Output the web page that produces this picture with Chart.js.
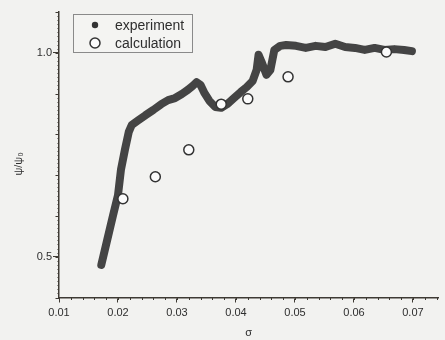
<!DOCTYPE html>
<html>
<head>
<meta charset="utf-8">
<script src="https://cdn.jsdelivr.net/npm/chart.js@4.4.1/dist/chart.umd.min.js"></script>
<style>
  html, body { margin: 0; padding: 0; background: #f2f2f0; }
  #wrap { width: 445px; height: 340px; }
  canvas { display: block; }
</style>
</head>
<body>
<div id="wrap"><canvas id="c" width="445" height="340"></canvas></div>
<script>
// ---------- data ----------
const expSigma = [0.01717, 0.01817, 0.01917, 0.02000, 0.02050, 0.02117, 0.02183, 0.02233,
  0.02350, 0.02467, 0.02600, 0.02733, 0.02850, 0.02967, 0.03083, 0.03183, 0.03267, 0.03333,
  0.03400, 0.03467, 0.03550, 0.03650, 0.03750, 0.03850, 0.03967, 0.04083, 0.04183, 0.04283,
  0.04350, 0.04383, 0.04433, 0.04517, 0.04583, 0.04650, 0.04750, 0.04850, 0.05017, 0.05183,
  0.05350, 0.05517, 0.05683, 0.05850, 0.06017, 0.06183, 0.06350, 0.06517, 0.06683, 0.06850,
  0.06983];
const expPsi = [0.480, 0.541, 0.602, 0.651, 0.713, 0.762, 0.806, 0.823,
  0.835, 0.847, 0.860, 0.874, 0.884, 0.889, 0.899, 0.909, 0.919, 0.928,
  0.921, 0.901, 0.882, 0.867, 0.865, 0.874, 0.889, 0.904, 0.916, 0.931,
  0.958, 0.995, 0.978, 0.946, 0.958, 1.007, 1.017, 1.019, 1.017, 1.012,
  1.017, 1.014, 1.022, 1.014, 1.012, 1.007, 1.012, 1.007, 1.009, 1.007,
  1.004];
const calcSigma = [0.02083, 0.02633, 0.03200, 0.03750, 0.04200, 0.04883, 0.06550];
const calcPsi   = [0.642, 0.696, 0.762, 0.874, 0.887, 0.941, 1.002];

const seriesNames = ['experiment', 'calculation'];
const xTickValues = [0.01, 0.02, 0.03, 0.04, 0.05, 0.06, 0.07];
const xTickLabels = ['0.01', '0.02', '0.03', '0.04', '0.05', '0.06', '0.07'];
const yTickValues = [0.5, 1.0];
const yTickLabels = ['0.5', '1.0'];
const xTitle = 'σ';
const yTitle = 'ψ/ψ₀';

// ---------- style ----------
const AXIS = '#3e3a34';
const TEXT = '#2e2e2e';
const CURVE = '#444444';
const FONT = "'Liberation Sans', Arial, sans-serif";

const minorTicks = {
  id: 'minorTicks',
  afterDraw(chart) {
    const { ctx, chartArea, scales: { x, y } } = chart;
    ctx.save();
    ctx.strokeStyle = AXIS;
    ctx.lineWidth = 1;
    ctx.beginPath();
    // x minor ticks every 0.002
    for (let k = 5; k <= 37; k++) {
      const px = Math.round(x.getPixelForValue(k * 0.002)) + 0.5;
      if (px > chartArea.right) break;
      ctx.moveTo(px, chartArea.bottom);
      ctx.lineTo(px, chartArea.bottom + 2.5);
    }
    // y fine ticks every 0.01, medium every 0.1
    for (let k = 40; k <= 110; k++) {
      const py = Math.round(y.getPixelForValue(k / 100)) + 0.5;
      const len = (k % 10 === 0) ? 3.5 : 1.5;
      ctx.moveTo(chartArea.left, py);
      ctx.lineTo(chartArea.left - len, py);
    }
    ctx.stroke();
    ctx.restore();
  }
};

const boxLegend = {
  id: 'boxLegend',
  afterDraw(chart) {
    const { ctx } = chart;
    ctx.save();
    ctx.strokeStyle = '#8a8a8a';
    ctx.lineWidth = 1;
    ctx.fillStyle = '#f4f4f2';
    ctx.fillRect(73.5, 14.5, 119, 38);
    ctx.strokeRect(73.5, 14.5, 119, 38);
    // experiment symbol
    ctx.fillStyle = '#333333';
    ctx.beginPath();
    ctx.arc(95, 25, 3.2, 0, Math.PI * 2);
    ctx.fill();
    // calculation symbol
    ctx.fillStyle = '#fbfbfb';
    ctx.strokeStyle = '#333333';
    ctx.lineWidth = 1.5;
    ctx.beginPath();
    ctx.arc(95, 43, 5, 0, Math.PI * 2);
    ctx.fill();
    ctx.stroke();
    ctx.fillStyle = TEXT;
    ctx.font = "14px " + FONT;
    ctx.textBaseline = 'middle';
    ctx.textAlign = 'left';
    ctx.fillText(seriesNames[0], 115, 26);
    ctx.fillText(seriesNames[1], 115, 44);
    ctx.restore();
  }
};

new Chart(document.getElementById('c'), {
  type: 'scatter',
  data: {
    datasets: [
      {
        label: seriesNames[1],
        data: calcSigma.map((v, i) => ({ x: v, y: calcPsi[i] })),
        pointRadius: 5,
        pointBorderWidth: 1.5,
        pointBorderColor: '#333333',
        pointBackgroundColor: '#fbfbfb',
        order: 0
      },
      {
        label: seriesNames[0],
        data: expSigma.map((v, i) => ({ x: v, y: expPsi[i] })),
        showLine: true,
        borderColor: CURVE,
        borderWidth: 8,
        borderJoinStyle: 'round',
        borderCapStyle: 'round',
        tension: 0,
        pointRadius: 0,
        order: 1
      }
    ]
  },
  options: {
    responsive: false,
    animation: false,
    devicePixelRatio: 1,
    layout: { padding: { top: 12, left: 0, right: 0, bottom: 0 } },
    plugins: { legend: { display: false }, tooltip: { enabled: false } },
    scales: {
      x: {
        type: 'linear',
        min: 0.01,
        max: 0.07433,
        afterBuildTicks: (s) => { s.ticks = xTickValues.map(v => ({ value: v })); },
        afterFit: (s) => { s.height = 42.5; },
        ticks: {
          callback: (v, i) => xTickLabels[i],
          color: TEXT,
          font: { family: FONT, size: 11 },
          padding: 4,
          maxRotation: 0,
          autoSkip: false
        },
        grid: { drawOnChartArea: false, drawTicks: true, tickLength: 5, tickColor: AXIS, tickWidth: 1 },
        border: { display: true, color: AXIS, width: 1.5 },
        title: { display: true, text: xTitle, color: TEXT, font: { family: FONT, size: 11 }, padding: { top: 0, bottom: 0 } }
      },
      y: {
        type: 'linear',
        min: 0.4,
        max: 1.1,
        afterBuildTicks: (s) => { s.ticks = yTickValues.map(v => ({ value: v })); },
        afterFit: (s) => { s.width = 59; },
        ticks: {
          callback: (v, i) => yTickLabels[i],
          color: TEXT,
          font: { family: FONT, size: 11 },
          padding: 1,
          autoSkip: false
        },
        grid: { drawOnChartArea: false, drawTicks: true, tickLength: 6, tickColor: AXIS, tickWidth: 1 },
        border: { display: true, color: AXIS, width: 1.5 },
        title: { display: true, text: yTitle + '\u00a0\u00a0\u00a0\u00a0\u00a0\u00a0', color: TEXT, font: { family: FONT, size: 11 }, padding: { top: 12, bottom: 0 } }
      }
    }
  },
  plugins: [minorTicks, boxLegend]
});
</script>
</body>
</html>
